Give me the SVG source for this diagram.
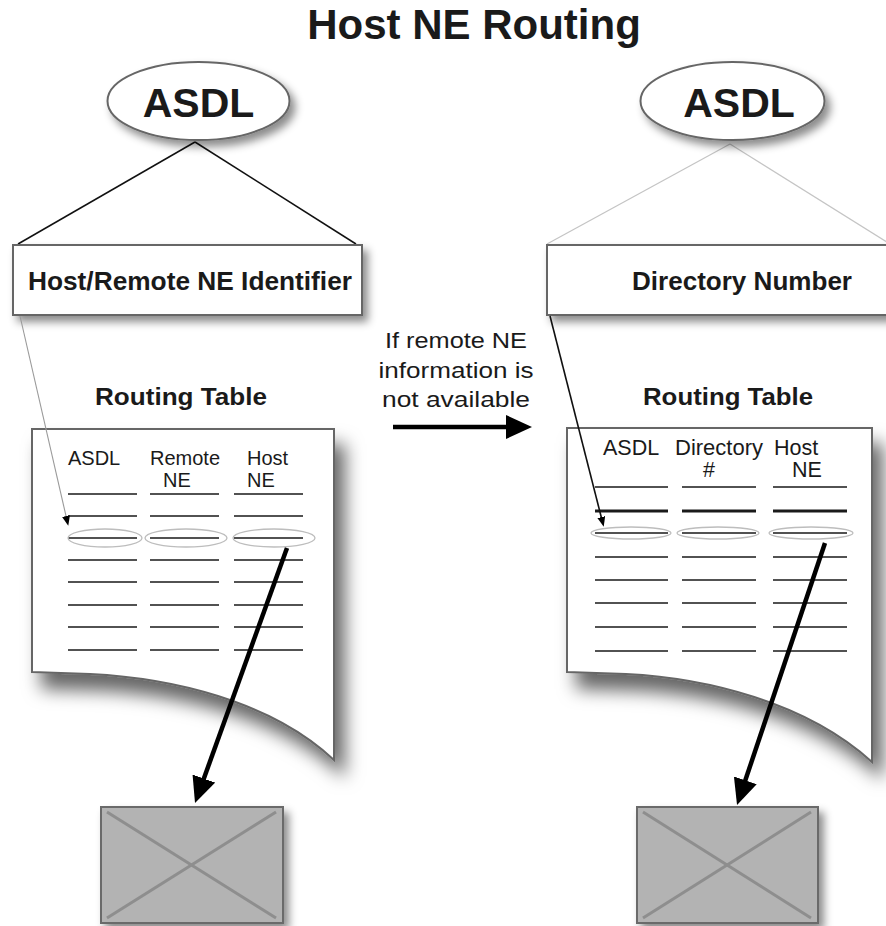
<svg xmlns="http://www.w3.org/2000/svg" width="886" height="926" viewBox="0 0 886 926">
<defs>
<filter id="sh" x="-20%" y="-20%" width="150%" height="150%">
<feDropShadow dx="5" dy="6" stdDeviation="4" flood-color="#000" flood-opacity="0.45"/>
</filter>
<filter id="shdoc" x="-20%" y="-20%" width="150%" height="150%">
<feDropShadow dx="10" dy="16" stdDeviation="9" flood-color="#000" flood-opacity="0.6"/>
</filter>
<marker id="bigHead" markerUnits="userSpaceOnUse" markerWidth="28" markerHeight="24" refX="6" refY="12" orient="auto">
<path d="M0,0 L26,12 L0,24 Z" fill="#000"/>
</marker>
<marker id="smallHead" markerUnits="userSpaceOnUse" markerWidth="12" markerHeight="10" refX="3" refY="4" orient="auto">
<path d="M0,0 L10,4 L0,8 Z" fill="#000"/>
</marker>
<style>
text{font-family:"Liberation Sans",Arial,sans-serif;fill:#1a1a1a}
.b{font-weight:bold}
.node{fill:#fff;stroke:#666;stroke-width:2}
.row{stroke:#1a1a1a;stroke-width:1.5}
.hl{fill:none;stroke:#bdbdbd;stroke-width:1.3}
.box{fill:#b3b3b3;stroke:#6a6a6a;stroke-width:2}
.x{stroke:#8e8e8e;stroke-width:3}
.h{font-size:20px}
.hr{font-size:21.5px}
</style>
</defs>
<rect width="886" height="926" fill="#fff"/>

<text id="title" class="b" x="474" y="39" font-size="42" text-anchor="middle">Host NE Routing</text>

<g id="connectors">
<line x1="195" y1="142" x2="18" y2="244" stroke="#111" stroke-width="1.5"/>
<line x1="195" y1="142" x2="356" y2="244" stroke="#111" stroke-width="1.5"/>
<line x1="730" y1="144" x2="547" y2="244" stroke="#c4c4c4" stroke-width="1.2"/>
<line x1="730" y1="144" x2="890" y2="244" stroke="#c4c4c4" stroke-width="1.2"/>
</g>

<g id="asdl-left">
<ellipse cx="198.5" cy="101" rx="91" ry="39" class="node" filter="url(#sh)"/>
<text class="b" x="198.5" y="117" font-size="41" text-anchor="middle">ASDL</text>
</g>
<g id="asdl-right">
<ellipse cx="732.5" cy="101" rx="92" ry="39" class="node" filter="url(#sh)"/>
<text class="b" x="739" y="117" font-size="41" text-anchor="middle">ASDL</text>
</g>

<g id="identifier-left">
<rect x="13" y="245" width="349" height="70" class="node" filter="url(#sh)"/>
<text class="b" x="190" y="290" font-size="25" text-anchor="middle" textLength="324" lengthAdjust="spacingAndGlyphs">Host/Remote NE Identifier</text>
</g>
<g id="identifier-right">
<rect x="547" y="245" width="350" height="70" class="node" filter="url(#sh)"/>
<text class="b" x="742" y="290" font-size="25" text-anchor="middle" textLength="220" lengthAdjust="spacingAndGlyphs">Directory Number</text>
</g>

<g id="table-left">
<text class="b" x="181" y="405" font-size="24" text-anchor="middle" textLength="172" lengthAdjust="spacingAndGlyphs">Routing Table</text>
<path d="M32,429 H334 V760 C270,700 170,678 90,674 L32,672 Z" class="node" filter="url(#shdoc)"/>
<text class="h" x="68" y="465">ASDL</text>
<text class="h" x="185" y="465" text-anchor="middle">Remote</text>
<text class="h" x="177" y="487" text-anchor="middle">NE</text>
<text class="h" x="247" y="465">Host</text>
<text class="h" x="247" y="487">NE</text>
<g class="row">
<path d="M68,494 H137 M150,494 H219 M234,494 H303"/>
<path d="M68,516 H137 M150,516 H219 M234,516 H303"/>
<path d="M68,538 H137 M150,538 H219 M234,538 H303"/>
<path d="M68,560 H137 M150,560 H219 M234,560 H303"/>
<path d="M68,582 H137 M150,582 H219 M234,582 H303"/>
<path d="M68,605 H137 M150,605 H219 M234,605 H303"/>
<path d="M68,627 H137 M150,627 H219 M234,627 H303"/>
<path d="M68,650 H137 M150,650 H219 M234,650 H303"/>
</g>
<ellipse cx="105" cy="538" rx="37" ry="9" class="hl"/>
<ellipse cx="186" cy="538" rx="41" ry="9" class="hl"/>
<ellipse cx="274" cy="538" rx="41" ry="9" class="hl"/>
</g>

<g id="table-right">
<text class="b" x="728" y="405" font-size="24" text-anchor="middle" textLength="170" lengthAdjust="spacingAndGlyphs">Routing Table</text>
<path d="M567,428 H872 V762 C806,702 706,678 626,674 L567,672 Z" class="node" filter="url(#shdoc)"/>
<text class="hr" x="603" y="455">ASDL</text>
<text class="hr" x="675" y="455" textLength="88" lengthAdjust="spacingAndGlyphs">Directory</text>
<text class="hr" x="709" y="477" text-anchor="middle">#</text>
<text class="hr" x="774" y="455">Host</text>
<text class="hr" x="792" y="477">NE</text>
<g class="row">
<path d="M595,487 H668 M682,487 H756 M773,487 H847"/>
<path d="M595,511 H668 M682,511 H756 M773,511 H847" stroke-width="3"/>
<path d="M595,533 H668 M682,533 H756 M773,533 H847"/>
<path d="M595,557 H668 M682,557 H756 M773,557 H847"/>
<path d="M595,580 H668 M682,580 H756 M773,580 H847"/>
<path d="M595,603 H668 M682,603 H756 M773,603 H847"/>
<path d="M595,627 H668 M682,627 H756 M773,627 H847"/>
<path d="M595,651 H668 M682,651 H756 M773,651 H847"/>
</g>
<ellipse cx="631" cy="533" rx="40" ry="6" class="hl"/>
<ellipse cx="718" cy="533" rx="41" ry="6" class="hl"/>
<ellipse cx="811" cy="533" rx="42" ry="6" class="hl"/>
</g>

<g id="note">
<text x="456" y="348" font-size="22" text-anchor="middle" textLength="142" lengthAdjust="spacingAndGlyphs">If remote NE</text>
<text x="456" y="378" font-size="22" text-anchor="middle" textLength="155" lengthAdjust="spacingAndGlyphs">information is</text>
<text x="456" y="407" font-size="22" text-anchor="middle" textLength="148" lengthAdjust="spacingAndGlyphs">not available</text>
</g>

<g id="box-left">
<rect x="101" y="807" width="182" height="116" class="box" filter="url(#sh)"/>
<line x1="107" y1="812" x2="276" y2="918" class="x"/>
<line x1="276" y1="812" x2="107" y2="918" class="x"/>
</g>
<g id="box-right">
<rect x="637" y="807" width="181" height="116" class="box" filter="url(#sh)"/>
<line x1="643" y1="812" x2="811" y2="918" class="x"/>
<line x1="811" y1="812" x2="643" y2="918" class="x"/>
</g>

<g id="arrows">
<line x1="20" y1="316" x2="66.7" y2="519" stroke="#9a9a9a" stroke-width="1.1" marker-end="url(#smallHead)"/>
<line x1="550" y1="316" x2="602" y2="520" stroke="#111" stroke-width="1.6" marker-end="url(#smallHead)"/>
<line x1="393" y1="427" x2="512" y2="427" stroke="#000" stroke-width="4.5" marker-end="url(#bigHead)"/>
<line x1="287" y1="548" x2="201.8" y2="784.2" stroke="#000" stroke-width="4.5" marker-end="url(#bigHead)"/>
<line x1="825" y1="543" x2="743.4" y2="786" stroke="#000" stroke-width="4.5" marker-end="url(#bigHead)"/>
</g>
</svg>
